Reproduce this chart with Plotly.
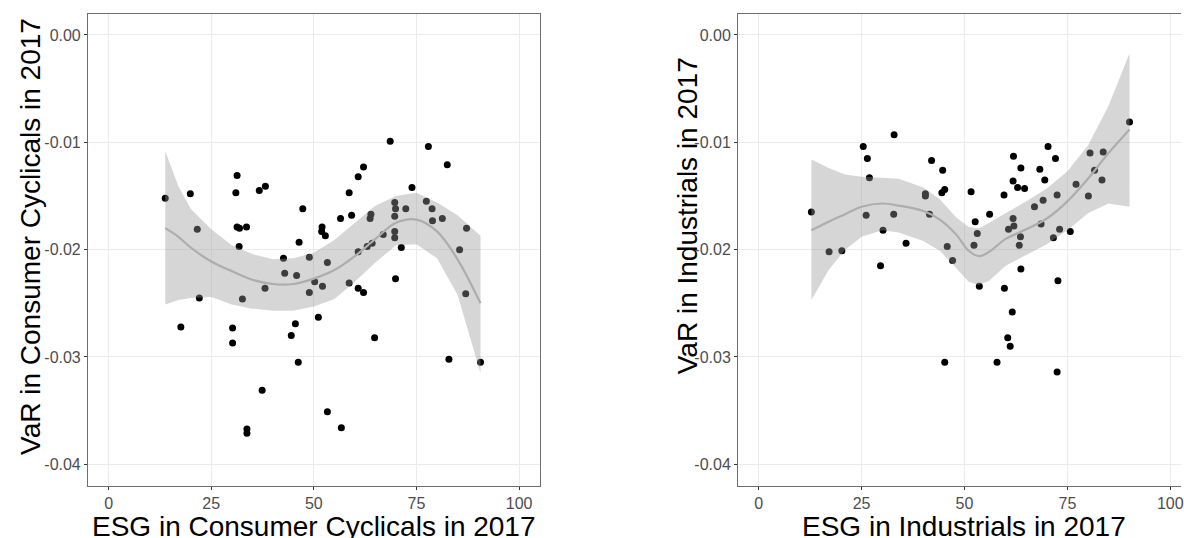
import plotly.graph_objects as go

# ---- Consumer Cyclicals, 2017 ----
cc_esg = [13.8, 19.9, 21.6, 31.3, 31.0, 31.3, 31.9, 33.6, 31.8, 36.7, 38.2, 47.3, 46.4,
          52.0, 51.9, 52.8, 56.5, 59.2, 58.6, 60.8, 62.1, 63.9, 63.7, 60.8, 63.0, 64.2,
          68.6, 69.7, 69.9, 69.7, 69.7, 69.7, 72.4, 71.3, 66.9, 73.9, 77.4, 78.8, 78.9,
          81.3, 77.9, 82.5, 87.2, 85.5, 42.6, 48.9, 53.3, 42.9, 45.8, 50.2, 52.1, 48.9,
          38.1, 32.6, 22.1, 58.6, 60.8, 62.1, 69.9, 87.0, 17.6, 30.2, 30.2, 45.5, 44.5,
          51.1, 64.8, 46.2, 82.9, 90.6, 37.4, 53.3, 56.7, 33.7, 33.7]
cc_var = [-0.0152, -0.0148, -0.0181, -0.0131, -0.0147, -0.0179, -0.0180, -0.0179, -0.0197,
          -0.0145, -0.0141, -0.0162, -0.0193, -0.0179, -0.0183, -0.0187, -0.0171, -0.0168,
          -0.0147, -0.0132, -0.0123, -0.0167, -0.0171, -0.0202, -0.0197, -0.0194, -0.0099,
          -0.0156, -0.0162, -0.0169, -0.0183, -0.0189, -0.0162, -0.0198, -0.0186, -0.0142,
          -0.0155, -0.0162, -0.0173, -0.0171, -0.0104, -0.0121, -0.0180, -0.0200, -0.0208,
          -0.0207, -0.0212, -0.0222, -0.0224, -0.0230, -0.0234, -0.0240, -0.0236, -0.0246,
          -0.0245, -0.0231, -0.0236, -0.0240, -0.0227, -0.0241, -0.0272, -0.0273, -0.0287,
          -0.0269, -0.0280, -0.0263, -0.0282, -0.0305, -0.0302, -0.0305, -0.0331, -0.0351,
          -0.0366, -0.0367, -0.0371]

# loess fit and 95% band
cc_fit_x = [13.8, 17, 20, 25, 30, 35, 40, 45, 50, 55, 60, 65, 70, 75, 80, 85, 90.6]
cc_fit = [-0.0180, -0.0188, -0.0198, -0.0211, -0.0220, -0.0228, -0.0232, -0.0232, -0.0227,
          -0.0219, -0.0206, -0.0190, -0.0175, -0.0172, -0.0183, -0.0209, -0.0250]
cc_hi = [-0.0108, -0.0141, -0.0162, -0.0181, -0.0196, -0.0204, -0.0209, -0.0208, -0.0203,
         -0.0191, -0.0175, -0.0159, -0.0150, -0.0147, -0.0156, -0.0168, -0.0187]
cc_lo = [-0.0251, -0.0247, -0.0245, -0.0244, -0.0251, -0.0255, -0.0257, -0.0257, -0.0253,
         -0.0246, -0.0230, -0.0212, -0.0196, -0.0195, -0.0208, -0.0242, -0.0315]

# ---- Industrials, 2017 ----
ind_esg = [12.8, 25.4, 26.4, 26.9, 26.1, 32.9, 32.8, 30.2, 35.8, 40.5, 40.5, 41.5, 42.0,
           44.7, 45.2, 44.5, 45.8, 51.6, 52.6, 53.1, 52.3, 56.1, 59.6, 61.9, 61.8, 62.9,
           64.6, 63.7, 61.8, 62.0, 60.7, 63.6, 63.3, 67.0, 69.1, 68.6, 68.3, 69.5, 70.3,
           72.1, 72.5, 71.6, 73.1, 75.7, 77.1, 80.1, 80.5, 81.6, 83.7, 83.4, 90.1, 17.1,
           20.2, 29.6, 47.1, 53.6, 63.7, 72.7, 59.7, 61.6, 60.5, 61.1, 45.2, 57.9, 72.5]
ind_var = [-0.0165, -0.0104, -0.0115, -0.0133, -0.0168, -0.0093, -0.0167, -0.0182, -0.0194,
           -0.0148, -0.0150, -0.0167, -0.0117, -0.0126, -0.0144, -0.0147, -0.0197, -0.0146,
           -0.0174, -0.0185, -0.0196, -0.0167, -0.0149, -0.0113, -0.0136, -0.0142, -0.0143,
           -0.0124, -0.0171, -0.0178, -0.0181, -0.0188, -0.0196, -0.0160, -0.0154, -0.0176,
           -0.0125, -0.0135, -0.0104, -0.0115, -0.0149, -0.0189, -0.0181, -0.0183, -0.0139,
           -0.0150, -0.0110, -0.0126, -0.0109, -0.0135, -0.0081, -0.0202, -0.0201, -0.0215,
           -0.0210, -0.0234, -0.0218, -0.0229, -0.0236, -0.0258, -0.0282, -0.0290, -0.0305,
           -0.0305, -0.0314]

ind_fit_x = [12.8, 17, 21, 25, 30, 34, 40, 44, 48, 51, 53.5, 56, 60, 65, 70, 75, 80, 85, 90.1]
ind_fit = [-0.0182, -0.0174, -0.0167, -0.0160, -0.0157, -0.0159, -0.0164, -0.0172, -0.0186,
           -0.0201, -0.0206, -0.0202, -0.0190, -0.0181, -0.0171, -0.0155, -0.0134, -0.0110,
           -0.0088]
ind_hi = [-0.0116, -0.0124, -0.0130, -0.0132, -0.0133, -0.0134, -0.0142, -0.0153, -0.0170,
          -0.0179, -0.0180, -0.0175, -0.0166, -0.0155, -0.0143, -0.0127, -0.0103, -0.0066,
          -0.0017]
ind_lo = [-0.0247, -0.0219, -0.0200, -0.0188, -0.0182, -0.0184, -0.0192, -0.0201, -0.0217,
          -0.0230, -0.0233, -0.0229, -0.0215, -0.0205, -0.0195, -0.0182, -0.0166, -0.0157,
          -0.0160]

x_ticks = [0, 25, 50, 75, 100]
x_tick_text = ["0", "25", "50", "75", "100"]
y_ticks = [0.0, -0.01, -0.02, -0.03, -0.04]
y_tick_text = ["0.00", "-0.01", "-0.02", "-0.03", "-0.04"]

FONT = "Liberation Sans, Arial, Helvetica, sans-serif"
W, H = 1184, 538

fig = go.Figure()


def add_panel(xs, ys, fx, fit, hi, lo, xa, ya):
    fig.add_trace(go.Scatter(x=xs, y=ys, mode="markers", xaxis=xa, yaxis=ya,
                             marker=dict(color="black", size=7, line=dict(width=0)),
                             showlegend=False, hoverinfo="skip"))
    fig.add_trace(go.Scatter(x=fx + fx[::-1], y=hi + lo[::-1], xaxis=xa, yaxis=ya,
                             mode="lines", fill="toself",
                             fillcolor="rgba(153,153,153,0.4)", line=dict(width=0),
                             showlegend=False, hoverinfo="skip"))
    fig.add_trace(go.Scatter(x=fx, y=fit, mode="lines", xaxis=xa, yaxis=ya,
                             line=dict(color="#ADADAD", width=2.2, shape="spline"),
                             showlegend=False, hoverinfo="skip"))


add_panel(cc_esg, cc_var, cc_fit_x, cc_fit, cc_hi, cc_lo, "x", "y")
add_panel(ind_esg, ind_var, ind_fit_x, ind_fit, ind_hi, ind_lo, "x2", "y2")

y_dom = [1 - 485.8 / H, 1 - 13.5 / H]
axis_common = dict(showgrid=True, gridcolor="#EBEBEB", gridwidth=1, zeroline=False,
                   showline=True, linecolor="#6E6E6E", linewidth=1.2,
                   ticks="outside", ticklen=3, tickcolor="#333333", tickwidth=1,
                   ticklabeloverflow="allow",
                   tickfont=dict(family=FONT, size=16, color="#4D4D4D"))

fig.update_layout(
    width=W, height=H,
    margin=dict(l=0, r=0, t=0, b=0),
    paper_bgcolor="white", plot_bgcolor="white",
    xaxis=dict(domain=[88.3 / W, 541 / W], range=[-5, 105], tickvals=x_ticks,
               ticktext=x_tick_text, mirror=True, anchor="y", **axis_common),
    yaxis=dict(domain=y_dom, range=[-0.042, 0.002], tickvals=y_ticks,
               ticktext=y_tick_text, mirror=True, anchor="x", **axis_common),
    xaxis2=dict(domain=[740 / W, 1.0], range=[-5, 102.6], tickvals=x_ticks,
                ticktext=x_tick_text, mirror=True, anchor="y2", **axis_common),
    yaxis2=dict(domain=y_dom, range=[-0.042, 0.002], tickvals=y_ticks,
                ticktext=y_tick_text, mirror=False, anchor="x2", **axis_common),
)

title_font = dict(family=FONT, size=28, color="black")
annotations = [
    dict(text="ESG in Consumer Cyclicals in 2017", x=314.7 / W, y=1 - 526 / H),
    dict(text="ESG in Industrials in 2017", x=966.8 / W, y=1 - 526 / H),
    dict(text="VaR in Consumer Cyclicals in 2017", x=30 / W, y=1 - 236 / H, textangle=-90),
    dict(text="VaR in Industrials in 2017", x=690 / W, y=1 - 216 / H, textangle=-90),
]
for a in annotations:
    fig.add_annotation(xref="paper", yref="paper", showarrow=False, font=title_font,
                       xanchor="center", yanchor="middle", **a)

fig.write_html("out.html")
